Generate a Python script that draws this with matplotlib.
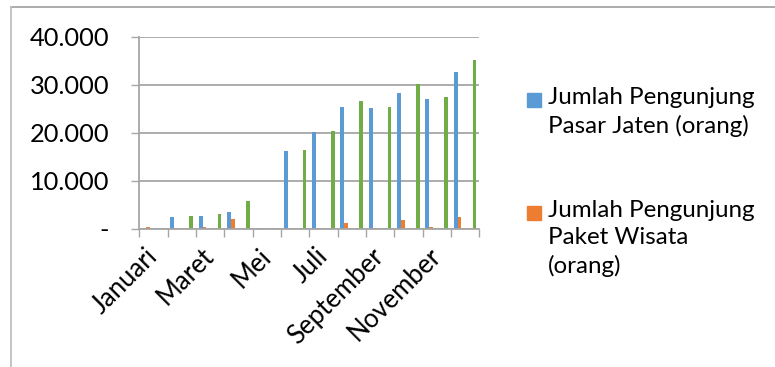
import numpy as np
import matplotlib
matplotlib.use("Agg")
import matplotlib.pyplot as plt
from matplotlib.patches import Rectangle
from matplotlib.lines import Line2D
from matplotlib.ticker import FuncFormatter

bulan = ['Januari', 'Februari', 'Maret', 'April', 'Mei', 'Juni', 'Juli',
         'Agustus', 'September', 'Oktober', 'November', 'Desember']
pasar_jaten = [0, 2400, 2650, 3450, 0, 16100, 20150, 25350, 25150, 28250, 27100, 32550]
paket_wisata = [300, 50, 300, 2000, 100, 100, 50, 1200, 50, 1800, 350, 2450]
seri_hijau = [250, 2600, 3050, 5750, 100, 16400, 20350, 26600, 25350, 30150, 27500, 35050]

label_pasar = 'Jumlah Pengunjung\nPasar Jaten (orang)'
label_paket = 'Jumlah Pengunjung\nPaket Wisata\n(orang)'

plt.rcParams['font.family'] = ['Lato', 'DejaVu Sans']
FS = 17.4

W, H = 775, 367
fig = plt.figure(figsize=(W / 100, H / 100), dpi=100)
ax = fig.add_axes([139.3 / W, 138.3 / H, 340 / W, 192 / H])

# excel style clustered columns: 6 slots per category, gap width 150%
n_slot, gap = 6, 1.5
w = 1 / (n_slot + gap)
x = np.arange(len(bulan))
def slot(i):
    return x + (gap / 2 + i + 0.5) * w

ax.bar(slot(0), pasar_jaten, w, color='#5B9BD5')
ax.bar(slot(1), paket_wisata, w, color='#ED7D31')
ax.bar(slot(5), seri_hijau, w, color='#70AD47')

ax.set_xlim(0, len(bulan))
ax.set_ylim(0, 40000)
ax.set_yticks([0, 10000, 20000, 30000, 40000])
ax.yaxis.set_major_formatter(FuncFormatter(
    lambda v, p: '-' if v == 0 else '{:,.0f}'.format(v).replace(',', '.')))
ax.yaxis.grid(True, color='#A6A6A6', lw=1.3)
ax.set_axisbelow(True)

for s in ['top', 'right']:
    ax.spines[s].set_visible(False)
for s in ['left', 'bottom']:
    ax.spines[s].set_color('#A6A6A6')
    ax.spines[s].set_linewidth(1.3)

ax.tick_params(axis='y', length=5.8, width=1, color='#A6A6A6', pad=16, labelsize=18.3)
ax.set_xticks(np.arange(len(bulan) + 1))
ax.set_xticklabels([])
ax.tick_params(axis='x', which='major', length=5.8, width=1, color='#A6A6A6')
ax.set_xticks(x[::2] + 0.5, minor=True)
ax.set_xticklabels(bulan[::2], minor=True, rotation=45, ha='right',
                   va='center', rotation_mode='anchor', fontsize=18.5)
ax.tick_params(axis='x', which='minor', length=0, pad=17)

# legend (only two entries are visible in the original)
for (yy, col, lab) in [(100, '#5B9BD5', label_pasar), (213, '#ED7D31', label_paket)]:
    fig.patches.append(Rectangle((527 / W, 1 - (yy + 7) / H), 14 / W, 14 / H,
                                 transform=fig.transFigure, color=col))
    fig.text(548 / W, 1 - (yy - 13) / H, lab, fontsize=FS, va='top',
             linespacing=1.38)

# chart area border
fig.add_artist(Line2D([11 / W, 1], [1 - 7 / H, 1 - 7 / H], color='#A6A6A6', lw=1.3))
fig.add_artist(Line2D([11 / W, 11 / W], [0, 1 - 7 / H], color='#BFBFBF', lw=1.3))

fig.savefig('out.png', dpi=100)
